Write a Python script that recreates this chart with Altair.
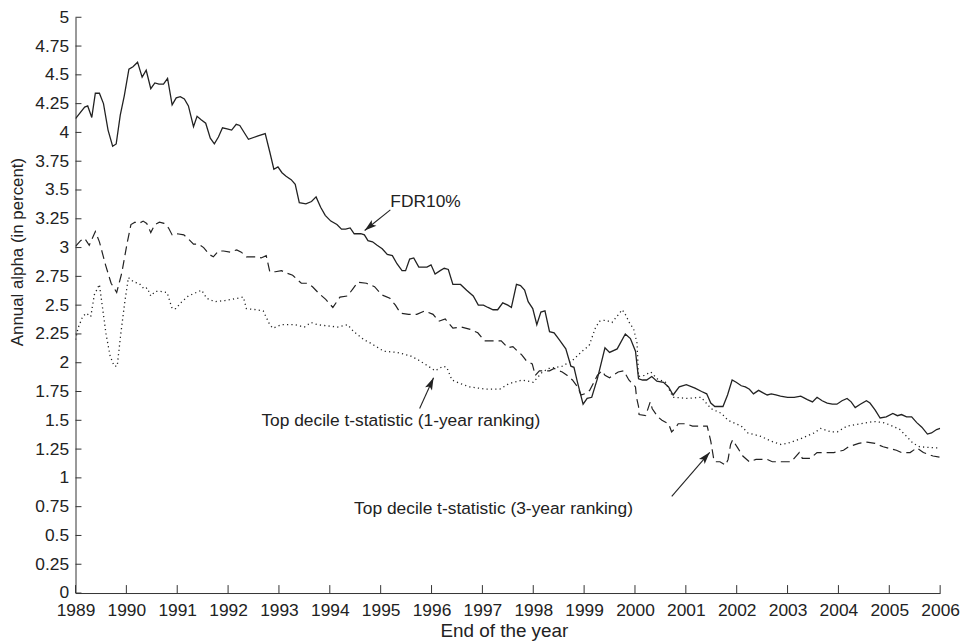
import math
import altair as alt
import pandas as pd

# ---------------- data ----------------
fdr_year = [1989.00, 1989.18, 1989.24, 1989.32, 1989.39, 1989.47, 1989.55, 1989.64, 1989.73, 1989.80,
            1989.88, 1989.96, 1990.05, 1990.13, 1990.22, 1990.31, 1990.39, 1990.48, 1990.56, 1990.64,
            1990.73, 1990.81, 1990.90, 1990.98, 1991.06, 1991.14, 1991.22, 1991.32, 1991.39, 1991.47,
            1991.56, 1991.65, 1991.73, 1991.81, 1991.89, 1991.98, 1992.07, 1992.16, 1992.23, 1992.40,
            1992.59, 1992.73, 1992.82, 1992.90, 1992.98, 1993.06, 1993.14, 1993.24, 1993.32, 1993.40,
            1993.53, 1993.64, 1993.73, 1993.82, 1993.91, 1994.02, 1994.14, 1994.23, 1994.31, 1994.40,
            1994.48, 1994.61, 1994.68, 1994.75, 1994.84, 1994.93, 1995.03, 1995.13, 1995.23, 1995.32,
            1995.42, 1995.49, 1995.57, 1995.65, 1995.75, 1995.91, 1995.99, 1996.07, 1996.17, 1996.25,
            1996.33, 1996.42, 1996.49, 1996.57, 1996.69, 1996.82, 1996.92, 1997.02, 1997.11, 1997.21,
            1997.30, 1997.40, 1997.50, 1997.57, 1997.67, 1997.75, 1997.83, 1997.90, 1997.99, 1998.07,
            1998.15, 1998.23, 1998.32, 1998.41, 1998.51, 1998.64, 1998.74, 1998.80, 1998.87, 1998.98,
            1999.06, 1999.15, 1999.26, 1999.41, 1999.50, 1999.65, 1999.81, 1999.91, 2000.01, 2000.07,
            2000.15, 2000.23, 2000.33, 2000.43, 2000.56, 2000.66, 2000.75, 2000.87, 2001.01, 2001.18,
            2001.31, 2001.41, 2001.49, 2001.57, 2001.73, 2001.82, 2001.91, 2001.99, 2002.09, 2002.17,
            2002.25, 2002.33, 2002.43, 2002.51, 2002.60, 2002.68, 2002.77, 2002.86, 2003.00, 2003.13,
            2003.26, 2003.39, 2003.49, 2003.58, 2003.68, 2003.78, 2003.88, 2003.97, 2004.07, 2004.17,
            2004.25, 2004.33, 2004.43, 2004.55, 2004.62, 2004.72, 2004.82, 2004.94, 2005.07, 2005.16,
            2005.24, 2005.34, 2005.44, 2005.54, 2005.64, 2005.75, 2005.83, 2005.93, 2006.00]
fdr_alpha = [4.12, 4.22, 4.23, 4.13, 4.34, 4.34, 4.25, 4.02, 3.88, 3.90,
             4.15, 4.32, 4.55, 4.57, 4.61, 4.48, 4.54, 4.38, 4.43, 4.42,
             4.42, 4.47, 4.24, 4.30, 4.31, 4.29, 4.23, 4.05, 4.14, 4.11,
             4.08, 3.95, 3.90, 3.96, 4.04, 4.03, 4.02, 4.07, 4.06, 3.94,
             3.97, 3.99, 3.83, 3.68, 3.70, 3.65, 3.62, 3.59, 3.55, 3.39,
             3.38, 3.40, 3.44, 3.35, 3.28, 3.23, 3.20, 3.16, 3.16, 3.17,
             3.12, 3.12, 3.11, 3.06, 3.05, 3.02, 2.99, 2.94, 2.93, 2.86,
             2.80, 2.80, 2.90, 2.91, 2.83, 2.83, 2.85, 2.77, 2.80, 2.82,
             2.81, 2.68, 2.68, 2.68, 2.63, 2.58, 2.50, 2.50, 2.48, 2.46,
             2.46, 2.52, 2.50, 2.48, 2.68, 2.67, 2.63, 2.53, 2.47, 2.33,
             2.44, 2.45, 2.27, 2.26, 2.20, 2.12, 1.97, 1.96, 1.83, 1.64,
             1.69, 1.70, 1.86, 2.13, 2.09, 2.12, 2.25, 2.21, 2.10, 1.86,
             1.85, 1.85, 1.88, 1.84, 1.83, 1.79, 1.72, 1.79, 1.81, 1.78,
             1.75, 1.73, 1.65, 1.62, 1.62, 1.72, 1.85, 1.83, 1.80, 1.79,
             1.77, 1.73, 1.76, 1.74, 1.72, 1.73, 1.72, 1.71, 1.70, 1.70,
             1.71, 1.68, 1.66, 1.70, 1.67, 1.65, 1.64, 1.64, 1.67, 1.69,
             1.66, 1.61, 1.64, 1.67, 1.65, 1.59, 1.52, 1.53, 1.56, 1.54,
             1.55, 1.53, 1.53, 1.48, 1.44, 1.38, 1.39, 1.42, 1.43]

t3_year = [1989.00, 1989.10, 1989.18, 1989.27, 1989.39, 1989.47, 1989.59, 1989.70, 1989.81, 1989.91,
           1990.02, 1990.09, 1990.17, 1990.25, 1990.33, 1990.40, 1990.48, 1990.56, 1990.65, 1990.74,
           1990.83, 1990.90, 1991.00, 1991.13, 1991.21, 1991.32, 1991.42, 1991.52, 1991.63, 1991.71,
           1991.81, 1991.91, 1992.04, 1992.17, 1992.26, 1992.36, 1992.46, 1992.56, 1992.65, 1992.75,
           1992.82, 1992.93, 1993.05, 1993.14, 1993.27, 1993.44, 1993.55, 1993.66, 1993.79, 1993.92,
           1994.06, 1994.20, 1994.35, 1994.45, 1994.55, 1994.72, 1994.88, 1995.02, 1995.18, 1995.29,
           1995.39, 1995.55, 1995.71, 1995.87, 1996.03, 1996.14, 1996.27, 1996.42, 1996.59, 1996.76,
           1996.91, 1997.04, 1997.20, 1997.37, 1997.50, 1997.60, 1997.69, 1997.77, 1997.86, 1997.98,
           1998.04, 1998.12, 1998.22, 1998.32, 1998.41, 1998.51, 1998.57, 1998.67, 1998.77, 1998.87,
           1998.94, 1999.01, 1999.11, 1999.18, 1999.26, 1999.35, 1999.41, 1999.50, 1999.67, 1999.78,
           1999.88, 2000.01, 2000.03, 2000.07, 2000.08, 2000.21, 2000.30, 2000.34, 2000.45, 2000.53,
           2000.66, 2000.72, 2000.79, 2000.85, 2001.00, 2001.13, 2001.26, 2001.42, 2001.49, 2001.55,
           2001.57, 2001.67, 2001.78, 2001.83, 2001.88, 2001.92, 2002.02, 2002.12, 2002.25, 2002.38,
           2002.60, 2002.70, 2002.87, 2003.07, 2003.23, 2003.29, 2003.45, 2003.58, 2003.75, 2003.91,
           2004.10, 2004.20, 2004.40, 2004.56, 2004.72, 2004.88, 2005.14, 2005.24, 2005.41, 2005.54,
           2005.67, 2005.86, 2006.00]
t3_alpha = [3.01, 3.06, 3.08, 3.02, 3.14, 3.05, 2.85, 2.69, 2.61, 2.78,
            3.05, 3.20, 3.22, 3.21, 3.23, 3.21, 3.13, 3.20, 3.22, 3.21,
            3.17, 3.11, 3.12, 3.11, 3.08, 3.03, 3.03, 3.00, 2.94, 2.92,
            2.97, 2.97, 2.96, 2.98, 2.96, 2.92, 2.92, 2.92, 2.91, 2.93,
            2.79, 2.79, 2.80, 2.78, 2.76, 2.69, 2.69, 2.66, 2.60, 2.55,
            2.48, 2.57, 2.58, 2.64, 2.70, 2.69, 2.66, 2.59, 2.56, 2.50,
            2.43, 2.42, 2.42, 2.45, 2.42, 2.36, 2.38, 2.30, 2.31, 2.29,
            2.26, 2.19, 2.19, 2.19, 2.13, 2.14, 2.10, 2.07, 2.02, 1.99,
            1.89, 1.93, 1.93, 1.93, 1.95, 1.93, 1.92, 1.89, 1.85, 1.79,
            1.72, 1.73, 1.76, 1.82, 1.89, 1.93, 1.89, 1.87, 1.92, 1.93,
            1.85, 1.79, 1.70, 1.62, 1.55, 1.54, 1.66, 1.60, 1.53, 1.50,
            1.47, 1.40, 1.43, 1.47, 1.47, 1.45, 1.45, 1.45, 1.32, 1.16,
            1.14, 1.14, 1.11, 1.16, 1.29, 1.33, 1.26, 1.19, 1.14, 1.16,
            1.16, 1.14, 1.14, 1.14, 1.22, 1.17, 1.17, 1.22, 1.22, 1.22,
            1.24, 1.27, 1.30, 1.31, 1.30, 1.27, 1.24, 1.22, 1.22, 1.26,
            1.22, 1.19, 1.18]

t1_year = [1989.00, 1989.05, 1989.14, 1989.21, 1989.30, 1989.37, 1989.47, 1989.60, 1989.68, 1989.76,
           1989.82, 1989.89, 1989.97, 1990.04, 1990.15, 1990.25, 1990.35, 1990.41, 1990.48, 1990.57,
           1990.67, 1990.80, 1990.90, 1990.97, 1991.09, 1991.22, 1991.48, 1991.58, 1991.74, 1991.94,
           1992.07, 1992.30, 1992.36, 1992.56, 1992.69, 1992.82, 1992.88, 1993.05, 1993.21, 1993.31,
           1993.50, 1993.63, 1993.76, 1994.15, 1994.35, 1994.47, 1994.67, 1994.80, 1995.06, 1995.32,
           1995.58, 1995.72, 1995.97, 1996.07, 1996.23, 1996.30, 1996.40, 1996.56, 1996.75, 1997.08,
           1997.34, 1997.53, 1997.79, 1998.00, 1998.18, 1998.31, 1998.57, 1998.77, 1998.96, 1999.10,
           1999.22, 1999.30, 1999.42, 1999.55, 1999.75, 1999.81, 1999.91, 1999.97, 2000.04, 2000.07,
           2000.18, 2000.31, 2000.44, 2000.60, 2000.75, 2001.04, 2001.30, 2001.50, 2001.70, 2001.83,
           2002.09, 2002.22, 2002.48, 2002.67, 2002.87, 2003.00, 2003.26, 2003.52, 2003.65, 2003.85,
           2003.98, 2004.17, 2004.43, 2004.69, 2004.88, 2005.01, 2005.21, 2005.34, 2005.47, 2005.60,
           2005.92, 2006.00]
t1_alpha = [2.20, 2.30, 2.40, 2.43, 2.40, 2.59, 2.68, 2.25, 2.06, 1.97,
            1.97, 2.25, 2.53, 2.74, 2.70, 2.69, 2.64, 2.65, 2.58, 2.62,
            2.62, 2.61, 2.47, 2.47, 2.53, 2.58, 2.63, 2.56, 2.53, 2.54,
            2.55, 2.57, 2.47, 2.46, 2.45, 2.33, 2.30, 2.33, 2.33, 2.33,
            2.31, 2.35, 2.33, 2.31, 2.33, 2.27, 2.20, 2.17, 2.10, 2.09,
            2.06, 2.03, 1.96, 1.93, 1.97, 1.96, 1.85, 1.82, 1.79, 1.77,
            1.77, 1.82, 1.85, 1.83, 1.92, 1.95, 1.97, 2.02, 2.10, 2.15,
            2.30, 2.36, 2.37, 2.35, 2.46, 2.42, 2.33, 2.30, 2.17, 1.88,
            1.89, 1.92, 1.86, 1.83, 1.70, 1.69, 1.70, 1.60, 1.56, 1.50,
            1.45, 1.39, 1.36, 1.32, 1.29, 1.30, 1.34, 1.39, 1.43, 1.40,
            1.40, 1.45, 1.47, 1.49, 1.48, 1.46, 1.42, 1.36, 1.30, 1.27,
            1.26, 1.26]

x_tick_years = list(range(1989, 2007))
y_tick_values = [0, 0.25, 0.5, 0.75, 1, 1.25, 1.5, 1.75, 2, 2.25, 2.5, 2.75,
                 3, 3.25, 3.5, 3.75, 4, 4.25, 4.5, 4.75, 5]

label_text = ["FDR10%",
              "Top decile t-statistic (1-year ranking)",
              "Top decile t-statistic (3-year ranking)"]
label_year = [1995.19, 1992.655, 1994.478]
label_alpha = [3.356, 1.449, 0.690]

arrow_tail_year = [1995.19, 1995.766, 2000.723]
arrow_tail_alpha = [3.328, 1.603, 0.839]
arrow_tip_year = [1994.685, 1996.04, 2001.47]
arrow_tip_alpha = [3.148, 1.869, 1.222]

# ---------------- layout / style ----------------
W, H = 871, 580
FONT = "Liberation Sans"
INK = "#222222"

xs = alt.Scale(domain=[1989, 2006], nice=False, zero=False)
ys = alt.Scale(domain=[0, 5], nice=False, zero=False)

xaxis = alt.Axis(values=x_tick_years, format="d", title="End of the year", grid=False,
                 ticks=False, domainColor="#333333", domainWidth=1,
                 labelFont=FONT, labelFontSize=17.5, labelColor=INK,
                 labelBaseline="alphabetic", labelPadding=22.5, labelFlush=False,
                 labelOverlap=False, titleFont=FONT, titleFontSize=19,
                 titleFontWeight="normal", titleColor=INK, titleX=431.5, titleY=43.3,
                 titleBaseline="alphabetic", titleAlign="center")
yaxis = alt.Axis(values=y_tick_values, format=".3~g", title="Annual alpha (in percent)",
                 grid=False, ticks=False, domainColor="#333333", domainWidth=1,
                 labelFont=FONT, labelFontSize=17.5, labelColor=INK,
                 labelAlign="right", labelBaseline="middle", labelPadding=7,
                 labelFlush=False, labelOverlap=False, titleFont=FONT,
                 titleFontSize=17, titleFontWeight="normal", titleColor=INK,
                 titleAngle=270, titleX=-53, titleY=236,
                 titleBaseline="alphabetic", titleAlign="center")


def X(field):
    return alt.X(field, type="quantitative", scale=xs, axis=xaxis)


def Y(field):
    return alt.Y(field, type="quantitative", scale=ys, axis=yaxis)


def series(years, vals, width, dash=None):
    df = pd.DataFrame({"year": years, "alpha": vals})
    kw = dict(color=INK, strokeWidth=width, clip=True)
    if dash:
        kw["strokeDash"] = dash
    return alt.Chart(df).mark_line(**kw).encode(x=X("year"), y=Y("alpha"))


solid = series(fdr_year, fdr_alpha, 1.3)
dashed = series(t3_year, t3_alpha, 1.2, [9, 5])
dotted = series(t1_year, t1_alpha, 1.3, [1.2, 3.2])

# inward tick marks
ytk = alt.Chart(pd.DataFrame({"v": y_tick_values})).mark_rule(
    color="#333333", strokeWidth=1).encode(y=Y("v"), x=alt.value(0), x2=alt.value(6))
xtk = alt.Chart(pd.DataFrame({"yr": x_tick_years})).mark_rule(
    color="#333333", strokeWidth=1).encode(x=X("yr"), y=alt.value(H), y2=alt.value(H - 8))

# annotations
px_year = W / 17.0
px_unit = H / 5.0
angles = []
for ty, ta, hy, ha in zip(arrow_tail_year, arrow_tail_alpha, arrow_tip_year, arrow_tip_alpha):
    dx = (hy - ty) * px_year
    dy = -(ha - ta) * px_unit
    angles.append(math.degrees(math.atan2(dx, -dy)) % 360)

arrows_df = pd.DataFrame({"year": arrow_tail_year, "alpha": arrow_tail_alpha,
                          "year2": arrow_tip_year, "alpha2": arrow_tip_alpha})
heads_df = pd.DataFrame({"year": arrow_tip_year, "alpha": arrow_tip_alpha, "ang": angles})
labels_df = pd.DataFrame({"year": label_year, "alpha": label_alpha, "label": label_text})

arrow_lines = alt.Chart(arrows_df).mark_rule(color=INK, strokeWidth=1.1).encode(
    x=X("year"), y=Y("alpha"), x2="year2", y2="alpha2")
ARROW = "M0,0L-0.62,2L0,1.55L0.62,2Z"
arrow_heads = alt.Chart(heads_df).mark_point(
    shape=ARROW, filled=True, size=150, color=INK, opacity=1, strokeWidth=0).encode(
    x=X("year"), y=Y("alpha"), angle=alt.Angle("ang:Q", scale=None))
labels = alt.Chart(labels_df).mark_text(
    align="left", baseline="alphabetic", font=FONT, fontSize=17.5, color=INK).encode(
    x=X("year"), y=Y("alpha"), text="label:N")

chart = alt.layer(dotted, dashed, solid, ytk, xtk, arrow_lines, arrow_heads, labels).properties(
    width=W, height=H,
    padding={"left": 68, "top": 7, "right": 20, "bottom": 48},
    autosize=alt.AutoSizeParams(type="none"),
    background="white",
).configure_view(stroke=None)

chart.save("out.html", embed_options={"renderer": "svg", "actions": False})
